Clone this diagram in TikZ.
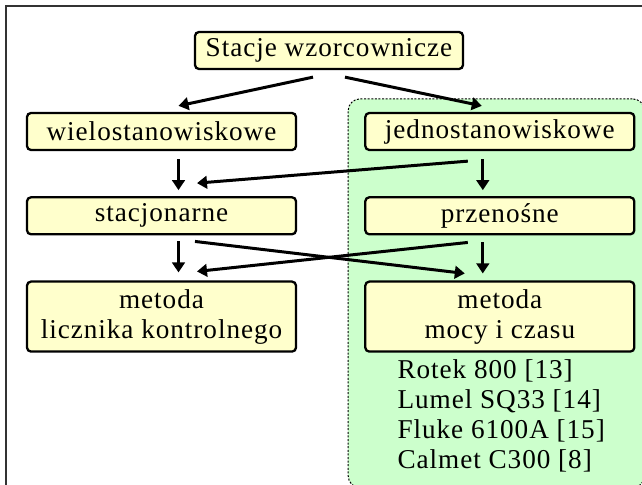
\documentclass[tikz,border=0pt]{standalone}
\usepackage{fontspec}
\setmainfont[LetterSpace=3.5]{Liberation Serif}
\usepackage{tikz}
\usetikzlibrary{arrows.meta,positioning,fit,backgrounds}

\definecolor{boxfill}{HTML}{FFFFCC}
\definecolor{groupfill}{HTML}{CCFFCC}

\begin{document}
\begin{tikzpicture}[
    node distance=22.5pt and 33.5pt,
    font=\fontsize{13.6}{15}\selectfont,
    box/.style={draw, line width=1.15pt, rounded corners=2pt, align=center, minimum height=18.5pt, minimum width=134.5pt, inner sep=2pt, fill=boxfill},
    tallbox/.style={box, minimum height=35pt},
    group/.style={draw, line width=0.5pt, dash pattern=on 1pt off 0.8pt, rounded corners=6pt, fill=groupfill, inner sep=0pt},
    arr/.style={-{Triangle[length=5pt, width=6.3pt]}, line width=1.5pt},
]
\useasboundingbox (0,0) rectangle (321pt,-242.5pt);
% outer frame
\draw[line width=0.6pt, black!80] (3pt,-3pt) rectangle (330pt,-250pt);

% Top node
\node[box, minimum width=134pt] (stacje) at (164.5pt,-25.25pt) {Stacje wzorcownicze};

% Left column
\node[box] (wielo) at (80.75pt,-65.75pt) {wielostanowiskowe};
\node[box, below=of wielo] (stac) {stacjonarne};
\node[tallbox, below=of stac] (licznik) {metoda\\ licznika kontrolnego};

% Right column
\node[box, right=of wielo] (jedno) {jednostanowiskowe};
\node[box, below=of jedno] (przen) {przeno\'sne};
\node[tallbox, below=of przen] (moc) {metoda\\ mocy i czasu};
\node[anchor=north west, align=left, inner sep=0pt] (urzadz) at ([xshift=16.5pt,yshift=-3pt]moc.south west)
    {Rotek 800 [13]\\ Lumel SQ33 [14]\\ Fluke 6100A [15]\\ Calmet C300 [8]};

% Group of portable stations
\coordinate (gtl) at ([xshift=-8pt,yshift=6.5pt]jedno.north west);
\coordinate (gbr) at ([xshift=4.5pt,yshift=-67.5pt]moc.south east);
\begin{scope}[on background layer]
    \node[group, fit=(gtl)(gbr)] (grupa) {};
\end{scope}

% Arrows
\draw[arr] ([xshift=-8pt,yshift=-3.5pt]stacje.south) -- ([xshift=8.5pt,yshift=3pt]wielo.north);
\draw[arr] ([xshift=8pt,yshift=-3.5pt]stacje.south) -- ([xshift=-9pt,yshift=3pt]jedno.north);

\draw[arr] ([xshift=8.5pt,yshift=-4pt]wielo.south) -- ([xshift=8.5pt,yshift=3pt]stac.north);
\draw[arr] ([xshift=-8.5pt,yshift=-4pt]jedno.south) -- ([xshift=-8.5pt,yshift=3pt]przen.north);
\draw[arr] ([xshift=-16pt,yshift=-5pt]jedno.south) -- ([xshift=17.75pt,yshift=6.5pt]stac.north);

\draw[arr] ([xshift=8.5pt,yshift=-3pt]stac.south) -- ([xshift=8.5pt,yshift=4pt]licznik.north);
\draw[arr] ([xshift=-8.5pt,yshift=-3.5pt]przen.south) -- ([xshift=-8.5pt,yshift=3.5pt]moc.north);
\draw[arr] ([xshift=16.75pt,yshift=-3pt]stac.south) -- ([xshift=-17.5pt,yshift=3.5pt]moc.north);
\draw[arr] ([xshift=-16pt,yshift=-3.5pt]przen.south) -- ([xshift=17.75pt,yshift=4.5pt]licznik.north);
\end{tikzpicture}
\end{document}
